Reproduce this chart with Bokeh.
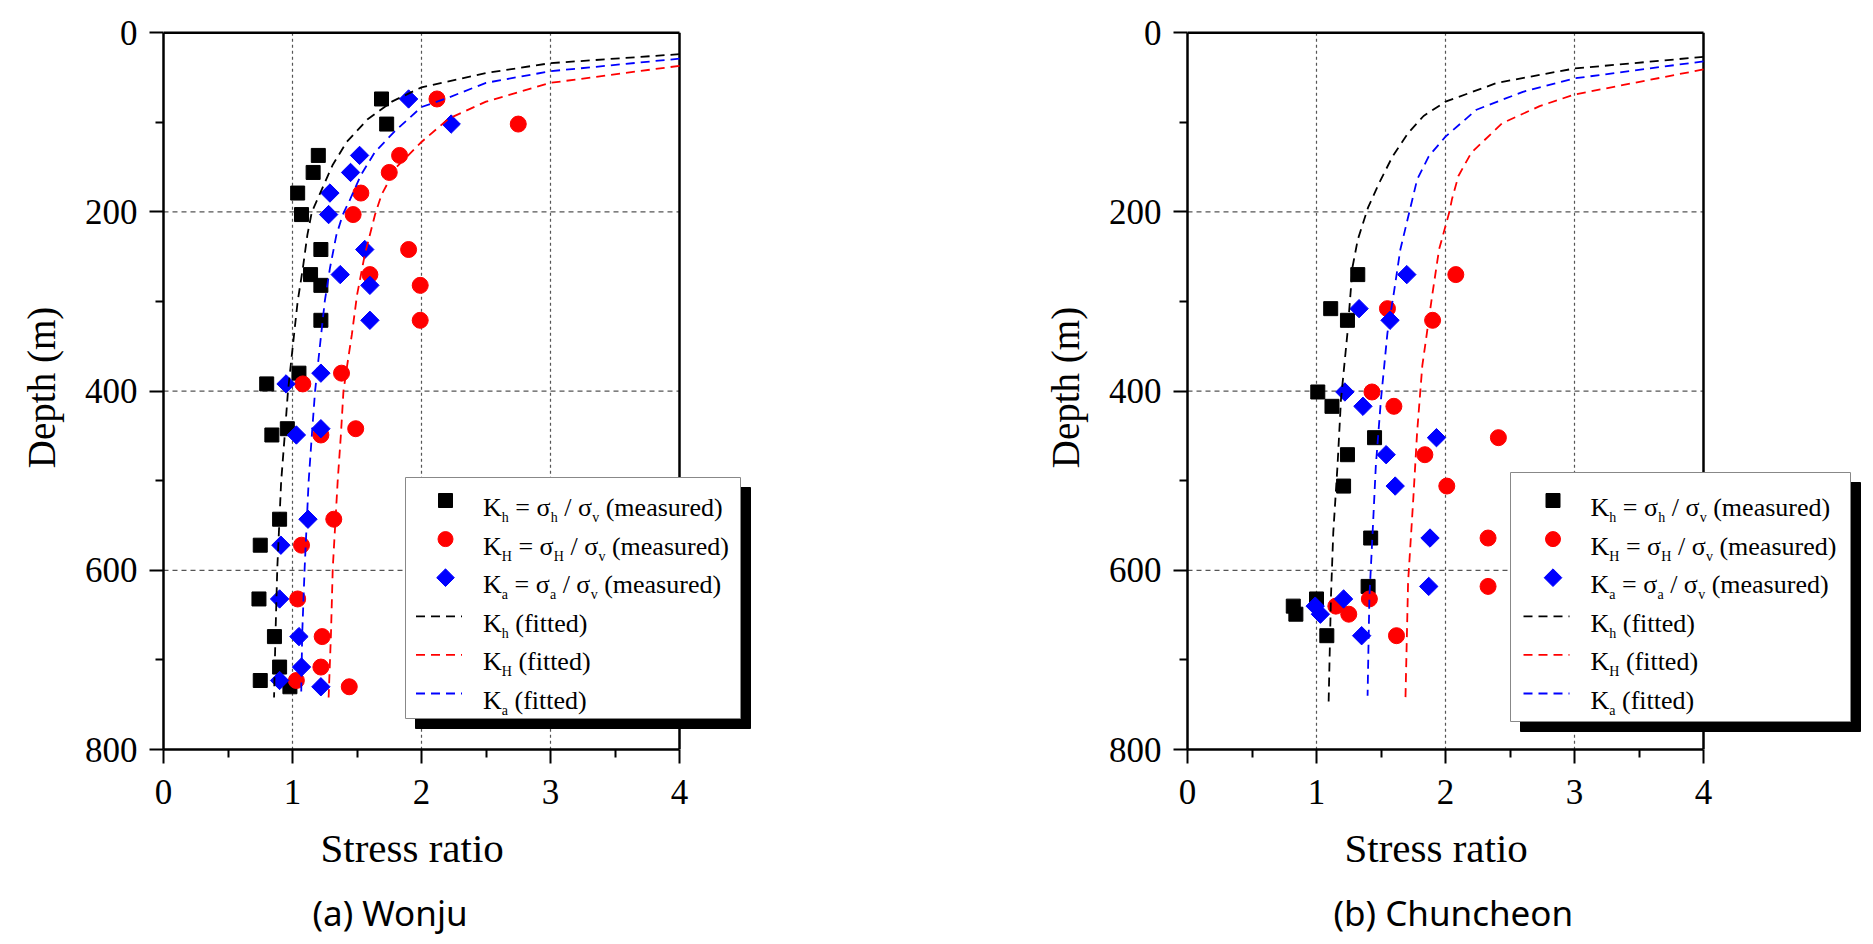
import numpy as np
from bokeh.plotting import figure
from bokeh.models import Range1d, FixedTicker, Label, Title
from bokeh.layouts import row
from bokeh.embed import file_html
from bokeh.resources import INLINE

# ---------------- data: (a) Wonju ----------------
wonju_depth = [74, 102, 137, 156, 179, 203, 242, 270, 282, 321, 380, 392, 442, 449, 543, 572, 632, 674, 708, 723, 730]
wonju_kh = [1.69, 1.73, 1.20, 1.16, 1.04, 1.07, 1.22, 1.14, 1.22, 1.22, 1.05, 0.80, 0.96, 0.84, 0.90, 0.75, 0.74, 0.86, 0.90, 0.75, 0.98]
wonju_kH = [2.12, 2.75, 1.83, 1.75, 1.53, 1.47, 1.90, 1.60, 1.99, 1.99, 1.38, 1.08, 1.49, 1.22, 1.32, 1.07, 1.04, 1.23, 1.22, 1.03, 1.44]
wonju_ka = [1.90, 2.23, 1.52, 1.45, 1.29, 1.28, 1.56, 1.37, 1.60, 1.60, 1.22, 0.95, 1.22, 1.03, 1.12, 0.91, 0.90, 1.05, 1.07, 0.90, 1.22]

wonju_fit_kh_x = [4.00, 3.00, 2.50, 2.00, 1.77, 1.58, 1.42, 1.31, 1.23, 1.15, 1.115, 1.08, 1.04, 1.012, 0.965, 0.94, 0.912, 0.882, 0.868, 0.857]
wonju_fit_kh_d = [24, 34, 45, 61, 77, 97, 122, 148, 174, 200, 226, 263, 300, 337, 400, 449, 501, 598, 672, 742]
wonju_fit_kH_x = [4.00, 3.00, 2.50, 2.21, 2.00, 1.80, 1.69, 1.64, 1.56, 1.50, 1.46, 1.42, 1.395, 1.375, 1.35, 1.312, 1.298, 1.28]
wonju_fit_kH_d = [37, 56, 77, 96, 122, 151, 181, 203, 248, 293, 337, 375, 400, 449, 501, 598, 672, 742]
wonju_fit_ka_x = [4.00, 3.00, 2.50, 2.20, 2.00, 1.80, 1.64, 1.53, 1.45, 1.39, 1.34, 1.29, 1.25, 1.222, 1.175, 1.15, 1.125, 1.094, 1.075, 1.067]
wonju_fit_ka_d = [29, 43, 56, 73, 83, 109, 133, 159, 185, 203, 226, 263, 300, 337, 400, 449, 501, 598, 672, 742]

# ---------------- data: (b) Chuncheon ----------------
chun_depth = [270, 308, 321, 401, 417, 452, 471, 506, 564, 618, 632, 640, 649, 673]
chun_kh = [1.32, 1.11, 1.24, 1.01, 1.12, 1.45, 1.24, 1.21, 1.42, 1.40, 1.00, 0.82, 0.84, 1.08]
chun_kH = [2.08, 1.55, 1.90, 1.43, 1.60, 2.41, 1.84, 2.01, 2.33, 2.33, 1.41, 1.15, 1.25, 1.62]
chun_ka = [1.70, 1.33, 1.57, 1.22, 1.36, 1.93, 1.54, 1.61, 1.88, 1.87, 1.21, 0.99, 1.03, 1.35]

chun_fit_kh_x = [4.00, 3.00, 2.40, 2.00, 1.83, 1.71, 1.59, 1.485, 1.40, 1.32, 1.28, 1.24, 1.19, 1.163, 1.13, 1.112, 1.094]
chun_fit_kh_d = [27, 40, 56, 77, 93, 112, 138, 168, 195, 231, 261, 335, 409, 483, 558, 630, 747]
chun_fit_kH_x = [4.00, 3.00, 2.73, 2.44, 2.20, 2.10, 2.05, 2.03, 1.95, 1.895, 1.82, 1.78, 1.75, 1.71, 1.689]
chun_fit_kH_d = [41, 69, 82, 101, 134, 160, 186, 200, 242, 295, 372, 446, 521, 613, 747]
chun_fit_ka_x = [4.00, 3.00, 2.60, 2.24, 2.00, 1.87, 1.78, 1.72, 1.65, 1.60, 1.55, 1.50, 1.46, 1.435, 1.41, 1.396]
chun_fit_ka_d = [32, 51, 66, 86, 116, 138, 164, 200, 242, 290, 335, 409, 483, 558, 630, 740]

# ---------------- axes ----------------
x_ticks = [0, 1, 2, 3, 4]
x_minor = [0.5, 1.5, 2.5, 3.5]
y_ticks = [0, 200, 400, 600, 800]
y_minor = [100, 300, 500, 700]
x_title = "Stress ratio"
y_title = "Depth (m)"

# legend rows: pieces (text, is_subscript)
legend_rows = [
    [("K", 0), ("h", 1), (" = σ", 0), ("h", 1), (" / σ", 0), ("v", 1), (" (measured)", 0)],
    [("K", 0), ("H", 1), (" = σ", 0), ("H", 1), (" / σ", 0), ("v", 1), (" (measured)", 0)],
    [("K", 0), ("a", 1), (" = σ", 0), ("a", 1), (" / σ", 0), ("v", 1), (" (measured)", 0)],
    [("K", 0), ("h", 1), (" (fitted)", 0)],
    [("K", 0), ("H", 1), (" (fitted)", 0)],
    [("K", 0), ("a", 1), (" (fitted)", 0)],
]

SERIF = "Liberation Serif"
SANS = "Noto Sans"
PX = 129.0          # pixels per stress-ratio unit
TOP = 25
FRAME_H = 724
BOTTOM = 192
FIG_H = TOP + FRAME_H + BOTTOM
YTOP = -8           # small headroom above depth 0 so the top border is not clipped
DASH = "9 6"

CW = {'K': .722, 'H': .722, 'h': .5, 'a': .444, 'v': .5, ' ': .25, '=': .564, 'σ': .549,
      '/': .278, '(': .333, ')': .333, 'm': .778, 'e': .444, 's': .389, 'u': .5,
      'r': .333, 'd': .5, 'f': .333, 'i': .278, 't': .278}


def tw(s, fs):
    return sum(CW.get(c, .5) for c in s) * fs


def make_panel(width, left_border, frame_w, caption, cap_offset, depth, kh, kH, ka, fits, box, inset):
    xmax = frame_w / PX
    p = figure(width=width, height=FIG_H, x_range=Range1d(0, xmax), y_range=Range1d(y_ticks[-1], YTOP),
               output_backend="svg", toolbar_location=None,
               min_border_left=left_border, min_border_right=width - left_border - frame_w,
               min_border_top=TOP, min_border_bottom=BOTTOM)
    p.background_fill_color = "white"
    p.border_fill_color = "white"
    p.outline_line_color = None
    p.xgrid.visible = False
    p.ygrid.visible = False

    p.xaxis.ticker = FixedTicker(ticks=x_ticks, minor_ticks=x_minor)
    p.yaxis.ticker = FixedTicker(ticks=y_ticks, minor_ticks=y_minor)
    p.xaxis.bounds = (x_ticks[0], x_ticks[-1])
    p.yaxis.bounds = (y_ticks[0], y_ticks[-1])
    for ax in (p.xaxis[0], p.yaxis[0]):
        ax.axis_line_width = 2.5
        ax.axis_line_color = "black"
        ax.major_tick_line_width = 2
        ax.minor_tick_line_width = 2
        ax.major_tick_line_color = "black"
        ax.minor_tick_line_color = "black"
        ax.major_tick_in = 0
        ax.minor_tick_in = 0
        ax.major_tick_out = 14
        ax.minor_tick_out = 8
        ax.major_label_text_font = SERIF
        ax.major_label_text_font_size = "35px"
        ax.major_label_text_color = "black"
        ax.axis_label_text_font = SERIF
        ax.axis_label_text_font_style = "normal"
        ax.axis_label_text_color = "black"
    p.xaxis.major_label_standoff = 16
    p.yaxis.axis_label = y_title
    p.yaxis.axis_label_text_font_size = "39px"
    p.yaxis.major_label_standoff = 12
    p.yaxis.axis_label_standoff = 19

    # dashed grid, limited to the 0..4 x 0..800 box
    gx = x_ticks[1:-1]
    gy = y_ticks[1:-1]
    p.segment(x0=gx, y0=[y_ticks[0]] * len(gx), x1=gx, y1=[y_ticks[-1]] * len(gx),
              line_color="#555555", line_dash="3 3", line_width=1.2, level="underlay")
    p.segment(x0=[x_ticks[0]] * len(gy), y0=gy, x1=[x_ticks[-1]] * len(gy), y1=gy,
              line_color="#555555", line_dash="5 4", line_width=1.2, level="underlay")
    # top and right border of the box
    p.line([x_ticks[0], x_ticks[-1]], [y_ticks[0], y_ticks[0]], line_color="black", line_width=2.5)
    p.line([x_ticks[-1], x_ticks[-1]], [y_ticks[0], y_ticks[-1]], line_color="black", line_width=2.5)

    p.scatter(kh, depth, marker="square", size=14, color="black")
    p.scatter(kH, depth, marker="circle", size=16, color="red")
    p.scatter(ka, depth, marker="square", angle=np.pi / 4, size=13, color="blue")
    colors = ["black", "red", "blue"]
    for (fx, fd), c in zip(fits, colors):
        p.line(fx, fd, color=c, line_dash=DASH, line_width=1.8)

    # ---- legend box (pixel layout relative to the frame, converted to data units) ----
    m_per_px = (y_ticks[-1] - YTOP) / FRAME_H

    def dx(px):
        return px / PX

    def dy(px):
        return y_ticks[-1] - px * m_per_px

    L, R, T, B, first_cy, step = box
    p.quad(left=[dx(L + 10)], right=[dx(R + 10)], top=[dy(T - 10)], bottom=[dy(B - 10)],
           fill_color="black", line_color="black")
    p.quad(left=[dx(L)], right=[dx(R)], top=[dy(T)], bottom=[dy(B)],
           fill_color="white", line_color="#888888", line_width=1)
    row_cy = [first_cy - i * step for i in range(6)]
    mx = dx(L + 40 + inset)
    p.scatter([mx], [dy(row_cy[0])], marker="square", size=14, color="black")
    p.scatter([mx], [dy(row_cy[1])], marker="circle", size=15, color="red")
    p.scatter([mx], [dy(row_cy[2])], marker="square", angle=np.pi / 4, size=12.5, color="blue")
    for i, c in enumerate(colors):
        yy = dy(row_cy[3 + i])
        p.line([dx(L + 10.5 + inset), dx(L + 56.5 + inset)], [yy, yy], color=c, line_dash=DASH, line_width=1.8)

    fs, sfs = 26, 14
    for i, pieces in enumerate(legend_rows):
        cy = row_cy[i]
        x = L + 77.5 + inset
        for txt, sub in pieces:
            size = sfs if sub else fs
            stripped = txt.lstrip(" ")
            x += tw(txt[:len(txt) - len(stripped)], size)
            p.add_layout(Label(x=x, y=(cy - 17) if sub else (cy - 7), x_units="screen", y_units="screen",
                               text=stripped, text_font=SERIF, text_font_size=f"{size}px",
                               text_color="black", text_baseline="alphabetic", text_align="left"))
            x += tw(stripped, size)

    p.add_layout(Title(text=x_title, align="left", offset=157, text_font=SERIF, standoff=32,
                       text_font_size="41px", text_font_style="normal", text_color="black"), "below")
    p.add_layout(Title(text=caption, align="left", offset=cap_offset, text_font=SANS, standoff=0,
                       text_font_size="35px", text_font_style="normal", text_color="black"), "below")
    return p


# legend box: left, right, top, bottom (px from frame left / frame bottom), first row centre, row step
p1 = make_panel(938, 163, 606, "(a) Wonju", 149, wonju_depth, wonju_kh, wonju_kH, wonju_ka,
                [(wonju_fit_kh_x, wonju_fit_kh_d), (wonju_fit_kH_x, wonju_fit_kH_d), (wonju_fit_ka_x, wonju_fit_ka_d)],
                (242, 577, 272, 31, 249, 38.6), 0)
p2 = make_panel(934, 249, 677, "(b) Chuncheon", 146, chun_depth, chun_kh, chun_kH, chun_ka,
                [(chun_fit_kh_x, chun_fit_kh_d), (chun_fit_kH_x, chun_fit_kH_d), (chun_fit_ka_x, chun_fit_ka_d)],
                (323, 663, 277, 28, 249, 38.6), 2.5)

layout = row(p1, p2)
open("out.html", "w").write(file_html(layout, INLINE))
